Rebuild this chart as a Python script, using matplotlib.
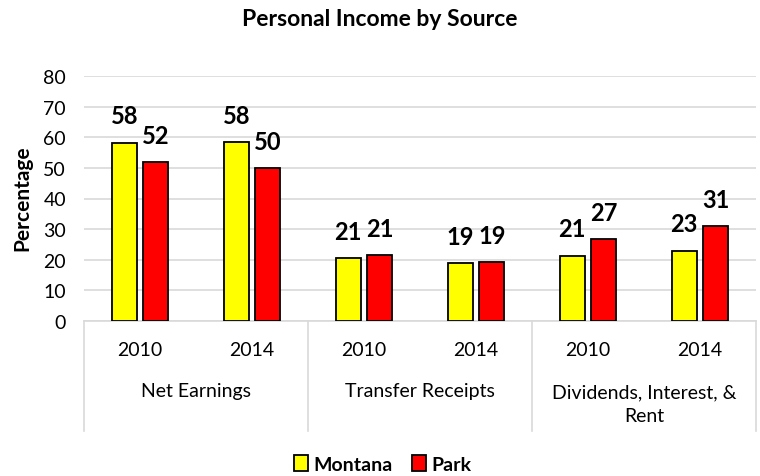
import matplotlib
matplotlib.use("Agg")
import matplotlib.pyplot as plt
import numpy as np

plt.rcParams['font.family'] = ['Lato', 'DejaVu Sans']

# chart data
groups = ["Net Earnings", "Transfer Receipts", "Dividends, Interest, &\nRent"]
years = ["2010", "2014"]
montana = [58.2, 58.3, 20.6, 18.8, 21.3, 23.0]
park = [51.9, 49.9, 21.4, 19.3, 26.7, 30.9]
yticks = [0, 10, 20, 30, 40, 50, 60, 70, 80]

fig = plt.figure(figsize=(7.6, 4.77), dpi=100)
ax = fig.add_axes([84 / 760, 1 - 322 / 477, 672 / 760, 245 / 477])

x = np.arange(len(montana))
w = 0.223
off = 0.141
b1 = ax.bar(x - off, montana, w, color='#ffff00', edgecolor='black', linewidth=1.3, label='Montana', zorder=3)
b2 = ax.bar(x + off, park, w, color='#ff0000', edgecolor='black', linewidth=1.3, label='Park', zorder=3)

# value labels above the bars
for bars, vals in ((b1, montana), (b2, park)):
    for rect, v in zip(bars, vals):
        ax.annotate(f"{v:.0f}", (rect.get_x() + rect.get_width() / 2, rect.get_height()),
                    xytext=(0, 11), textcoords='offset points', ha='center', va='bottom',
                    fontsize=17, fontweight='bold')

ax.set_xlim(-0.5, len(montana) - 0.5)
ax.set_ylim(0, 80)
ax.set_yticks(yticks)
ax.tick_params(axis='y', length=0, labelsize=14, pad=13)
ax.set_xticks([])
ax.grid(axis='y', color='#d9d9d9', linewidth=1.2, zorder=0)
for s in ['top', 'right', 'left']:
    ax.spines[s].set_visible(False)
ax.spines['bottom'].set_color('#d9d9d9')
ax.spines['bottom'].set_linewidth(1.2)

fig.text(22 / 760, 1 - 198 / 477, "Percentage", rotation=90, ha='center', va='center',
         fontsize=15, fontweight='bold')

# multi-level category axis
trans = ax.get_xaxis_transform()
for i, xi in enumerate(x):
    ax.text(xi, -28 / 245, years[i % 2], transform=trans, ha='center', va='center', fontsize=14)
for g, name in enumerate(groups):
    yy = -70 / 245 if "\n" not in name else -82.5 / 245
    ax.text(2 * g + 0.5, yy, name, transform=trans, ha='center', va='center', fontsize=14,
            linespacing=1.45)
for b in [-0.5, 1.5, 3.5, 5.5]:
    ax.plot([b, b], [0, -110 / 245], transform=trans, color='#d9d9d9', linewidth=1.2, clip_on=False)

fig.text(0.5, 1 - 20 / 477, "Personal Income by Source", ha='center', va='center',
         fontsize=16.5, fontweight='bold')

fig.legend(handles=[b1, b2], loc='center', bbox_to_anchor=(383 / 760, 1 - 465 / 477), ncol=2,
           frameon=False, prop={'weight': 'bold', 'size': 14}, handlelength=0.7, handleheight=0.9,
           handletextpad=0.3, columnspacing=1.0)

fig.savefig("out.png", dpi=100)
